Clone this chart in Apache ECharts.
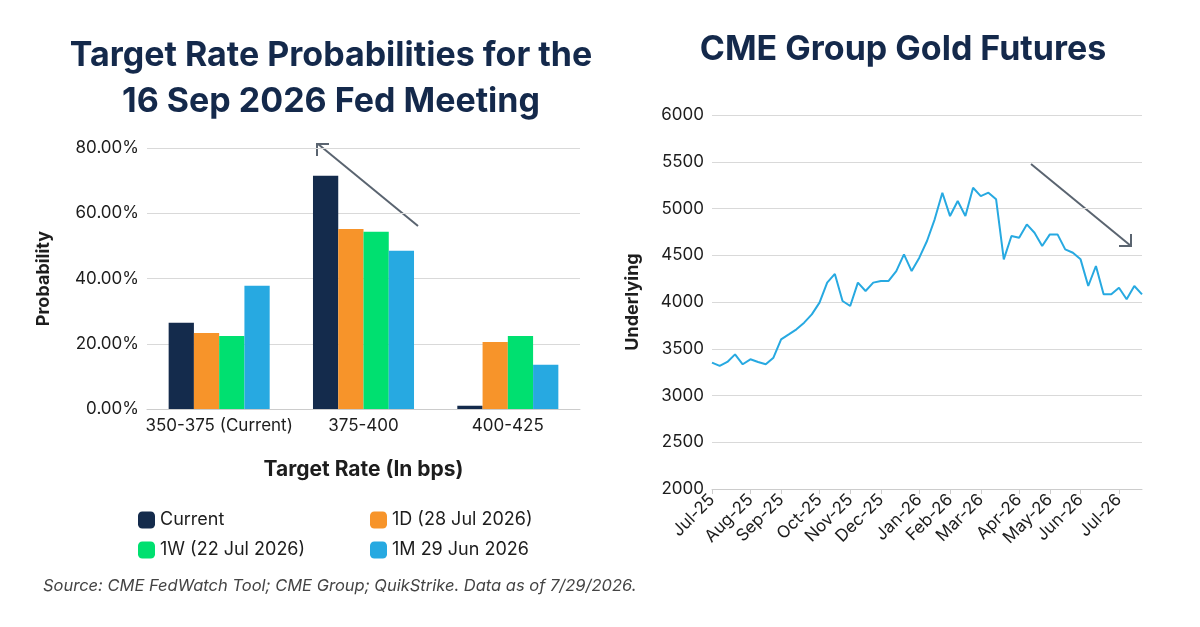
<!DOCTYPE html>
<html><head><meta charset="utf-8">
<script src="https://cdn.jsdelivr.net/npm/echarts@6/dist/echarts.min.js"></script>
<style>body{margin:0;background:#fff}#c{width:1200px;height:627px}</style>
</head><body><div id="c"></div>
<script>
var chart = echarts.init(document.getElementById('c'));
var navy = '#14294b', txt = '#1d1d1d';
var rates = ['350-375 (Current)', '375-400', '400-425'];
var probs = {
	'Current': [26.4, 71.5, 1.0],
	'1D (28 Jul 2026)': [23.3, 55.2, 20.5],
	'1W (22 Jul 2026)': [22.4, 54.3, 22.4],
	'1M 29 Jun 2026': [37.8, 48.5, 13.6]
};
var colors = ['#142b4c', '#f7942a', '#00e070', '#27a9e1'];
// weekly gold futures, from 1 Jul 2025
var gold = [3351,3316,3359,3440,3334,3387,3358,3334,3405,3601,3654,3708,3779,3868,3993,4207,4300,4011,
	3957,4207,4118,4207,4225,4225,4331,4510,4331,4474,4652,4884,5169,4919,5080,4919,5222,5133,5169,5098,
	4456,4706,4688,4830,4741,4599,4723,4723,4563,4527,4456,4171,4385,4082,4082,4153,4029,4171,4082];
var mon = ['Jan','Feb','Mar','Apr','May','Jun','Jul','Aug','Sep','Oct','Nov','Dec'];
var dates = [], firstOfMonth = {};
for (var i = 0; i < gold.length; i++) {
	var d = new Date(Date.UTC(2025, 6, 1) + i * 7 * 86400000);
	var key = mon[d.getUTCMonth()] + '-' + String(d.getUTCFullYear()).slice(2);
	dates.push(key + '|' + i);
	if (!(key in firstOfMonth)) firstOfMonth[key] = i;
}
function isFirst(idx) {
	var k = dates[idx].split('|')[0];
	return firstOfMonth[k] === idx;
}
var names = Object.keys(probs);
var series = names.map(function (n, i) {
	return { name: n, type: 'bar', xAxisIndex: 0, yAxisIndex: 0, data: probs[n], barGap: 0, barCategoryGap: '30%',
		itemStyle: { color: colors[i] } };
});
series.push({ type: 'line', xAxisIndex: 1, yAxisIndex: 1, data: gold, showSymbol: false,
	lineStyle: { color: '#27a9e1', width: 2 } });
var axisFont = { color: txt, fontSize: 17, fontFamily: 'Inter', interval: 0 };
chart.setOption({
	animation: false,
	title: [
		{ text: 'Target Rate Probabilities for the\n16 Sep 2026 Fed Meeting', left: 326, top: 28, textAlign: 'center',
			textStyle: { color: navy, fontSize: 34, fontWeight: 'bold', fontFamily: 'Inter', lineHeight: 46 } },
		{ text: 'CME Group Gold Futures', left: 898, top: 28, textAlign: 'center',
			textStyle: { color: navy, fontSize: 34, fontWeight: 'bold', fontFamily: 'Inter' } },
		{ text: 'Source: CME FedWatch Tool; CME Group; QuikStrike. Data as of 7/29/2026.', left: 38, top: 573,
			textStyle: { color: '#444', fontSize: 16.5, fontStyle: 'italic', fontWeight: 'normal', fontFamily: 'Inter' } }
	],
	legend: [
		{ data: [names[0], names[2]], orient: 'vertical', left: 133, top: 506, itemGap: 12, itemWidth: 17, itemHeight: 17,
			textStyle: { color: txt, fontSize: 18, fontFamily: 'Inter' } },
		{ data: [names[1], names[3]], orient: 'vertical', left: 365, top: 506, itemGap: 12, itemWidth: 17, itemHeight: 17,
			textStyle: { color: txt, fontSize: 18, fontFamily: 'Inter' } }
	],
	grid: [
		{ left: 147, right: 620, top: 148, bottom: 218 },
		{ left: 712, right: 58, top: 115, bottom: 138 }
	],
	xAxis: [
		{ type: 'category', gridIndex: 0, data: rates, axisTick: { show: false },
			axisLine: { lineStyle: { color: '#ccc' } }, axisLabel: axisFont,
			name: 'Target Rate (In bps)', nameLocation: 'middle', nameGap: 50,
			nameTextStyle: { color: txt, fontSize: 21, fontWeight: 'bold', fontFamily: 'Inter' } },
		{ type: 'category', gridIndex: 1, data: dates, boundaryGap: false,
			axisLine: { lineStyle: { color: '#ccc' } },
			axisTick: { interval: function (idx) { return isFirst(idx); }, lineStyle: { color: '#ccc' } },
			axisLabel: { interval: function (idx) { return isFirst(idx); }, rotate: 45, color: txt, fontSize: 17,
				fontFamily: 'Inter', formatter: function (v) { return v.split('|')[0]; } } }
	],
	yAxis: [
		{ type: 'value', gridIndex: 0, min: 0, max: 80, interval: 20,
			axisLabel: { color: txt, fontSize: 17, fontFamily: 'Inter', formatter: function (v) { return v.toFixed(2) + '%'; } },
			splitLine: { lineStyle: { color: '#d9d9d9' } },
			name: 'Probability', nameLocation: 'middle', nameGap: 94,
			nameTextStyle: { color: txt, fontSize: 18, fontWeight: 'bold', fontFamily: 'Inter' } },
		{ type: 'value', gridIndex: 1, min: 2000, max: 6000, interval: 500,
			axisLabel: { color: txt, fontSize: 17, fontFamily: 'Inter', formatter: function (v) { return String(v); } },
			splitLine: { lineStyle: { color: '#d9d9d9' } },
			name: 'Underlying', nameLocation: 'middle', nameGap: 70,
			nameTextStyle: { color: txt, fontSize: 18, fontWeight: 'bold', fontFamily: 'Inter' } }
	],
	graphic: [
		{ type: 'line', shape: { x1: 418, y1: 226, x2: 318, y2: 144 }, style: { stroke: '#5a6470', lineWidth: 2 } },
		{ type: 'polyline', shape: { points: [[317, 156], [317, 144], [329, 144]] }, style: { stroke: '#5a6470', lineWidth: 2, fill: null } },
		{ type: 'line', shape: { x1: 1031, y1: 164, x2: 1131, y2: 246 }, style: { stroke: '#5a6470', lineWidth: 2 } },
		{ type: 'polyline', shape: { points: [[1131, 234], [1131, 246], [1119, 246]] }, style: { stroke: '#5a6470', lineWidth: 2, fill: null } }
	],
	series: series
});
</script></body></html>
